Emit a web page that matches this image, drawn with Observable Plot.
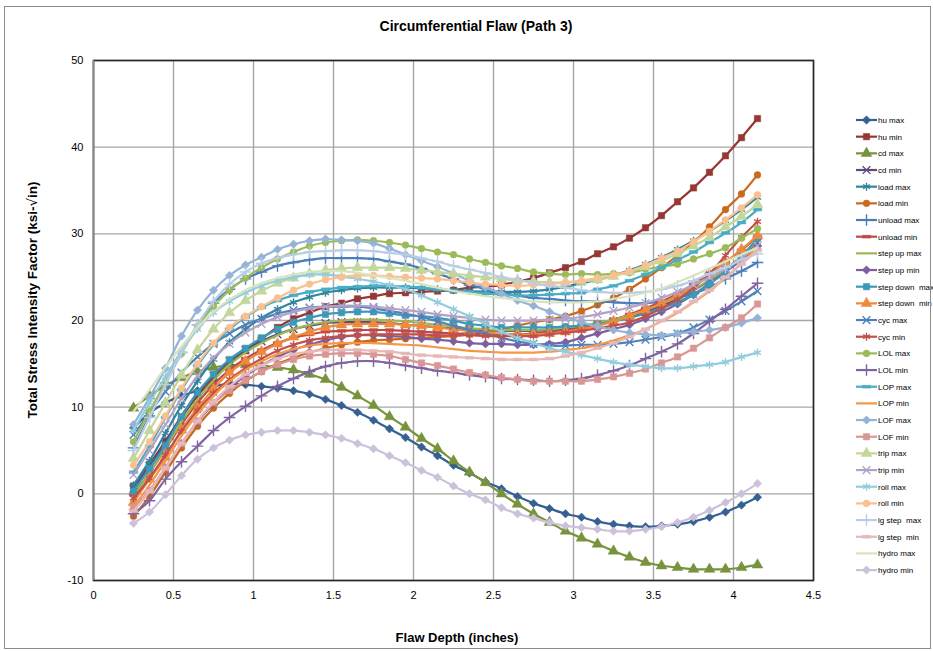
<!DOCTYPE html>
<html><head><meta charset="utf-8">
<script src="https://cdn.jsdelivr.net/npm/d3@7"></script>
<script src="https://cdn.jsdelivr.net/npm/@observablehq/plot@0.6"></script>
<style>
body{margin:0;background:#fff}
#wrap{position:relative;width:933px;height:651px}
#border{position:absolute;left:4px;top:6px;width:925px;height:641px;border:1px solid #8c8c8c;pointer-events:none}
</style></head>
<body><div id="wrap"><div id="border"></div></div>
<script>
const depth = [0.25,0.35,0.45,0.55,0.65,0.75,0.85,0.95,1.05,1.15,1.25,1.35,1.45,1.55,1.65,1.75,1.85,1.95,2.05,2.15,2.25,2.35,2.45,2.55,2.65,2.75,2.85,2.95,3.05,3.15,3.25,3.35,3.45,3.55,3.65,3.75,3.85,3.95,4.05,4.15];
const xTicks = [0,0.5,1,1.5,2,2.5,3,3.5,4,4.5];
const yTicks = [-10,0,10,20,30,40,50];

const huMax = [7.6,9.3,10.5,11.3,11.9,12.4,12.7,12.6,12.4,12.2,11.9,11.5,10.9,10.2,9.4,8.5,7.5,6.5,5.4,4.4,3.3,2.4,1.4,0.6,-0.3,-1.1,-1.7,-2.3,-2.7,-3.2,-3.5,-3.7,-3.8,-3.7,-3.5,-3.2,-2.7,-2.1,-1.3,-0.4];
const huMin = [0.9,3.4,6.1,8.8,11.3,13.3,15.0,16.5,17.9,19.2,20.2,20.9,21.6,22.0,22.5,22.8,23.1,23.2,23.3,23.4,23.5,23.8,23.9,24.1,24.5,24.9,25.5,26.1,26.8,27.7,28.5,29.5,30.7,32.1,33.7,35.3,37.1,39.0,41.1,43.3];
const cdMax = [9.9,11.3,12.5,13.4,14.1,14.6,14.8,14.9,14.8,14.6,14.3,13.8,13.2,12.3,11.3,10.2,8.9,7.7,6.4,5.2,3.8,2.5,1.3,0.0,-1.2,-2.3,-3.3,-4.3,-5.1,-5.8,-6.6,-7.3,-7.9,-8.3,-8.5,-8.7,-8.7,-8.7,-8.5,-8.2];
const cdMin = [0.6,3.2,6.0,9.0,11.6,13.6,15.3,16.6,17.6,18.4,19.0,19.4,19.7,19.8,19.8,19.8,19.7,19.5,19.4,19.2,19.1,19.0,18.9,18.8,18.8,18.8,18.9,19.0,19.2,19.5,19.9,20.4,21.0,21.7,22.5,23.5,24.6,25.9,27.4,29.0];
const loadMax = [1.0,3.8,7.0,10.2,13.0,15.5,17.5,19.0,20.3,21.3,22.1,22.7,23.2,23.5,23.7,23.8,23.8,23.8,23.7,23.6,23.5,23.4,23.3,23.3,23.3,23.4,23.6,23.9,24.3,24.7,25.2,25.8,26.5,27.3,28.2,29.2,30.3,31.5,32.8,34.2];
const loadMin = [-2.6,-0.3,2.5,5.3,7.8,9.9,11.6,13.0,14.1,15.0,15.7,16.3,16.8,17.2,17.5,17.7,17.8,17.9,18.0,18.1,18.2,18.4,18.7,19.0,19.4,19.8,20.1,20.5,21.1,21.8,22.6,23.6,24.8,26.1,27.5,29.0,30.8,32.8,34.6,36.8];
const unloadMax = [5.3,9.0,12.8,16.3,19.5,22.0,23.6,24.8,25.6,26.3,26.7,27.0,27.2,27.2,27.2,27.1,26.8,26.5,26.0,25.4,24.8,24.1,23.7,23.2,22.9,22.6,22.5,22.3,22.2,22.2,22.1,22.0,22.0,22.2,22.6,23.1,23.8,24.8,25.7,26.7];
const unloadMin = [-0.1,2.4,5.2,8.0,10.5,12.6,14.3,15.6,16.6,17.4,18.0,18.4,18.7,18.8,18.9,18.9,18.9,18.8,18.7,18.6,18.5,18.5,18.4,18.4,18.4,18.5,18.7,18.9,19.2,19.6,20.1,20.7,21.4,22.2,23.1,24.2,25.4,26.7,28.1,29.7];
const stepUpMax = [-0.3,2.4,5.3,8.3,10.9,13.1,14.9,16.3,17.4,18.3,19.0,19.5,19.8,20.0,20.1,20.1,20.0,19.9,19.7,19.5,19.3,19.1,19.0,18.9,18.9,18.9,19.0,19.2,19.4,19.7,20.1,20.6,21.2,21.9,22.7,23.6,24.7,25.9,27.4,29.2];
const stepUpMin = [-1.8,0.3,3.0,5.8,8.3,10.4,12.2,13.6,14.8,15.8,16.6,17.2,17.7,18.1,18.3,18.3,18.2,18.1,17.9,17.8,17.6,17.4,17.3,17.3,17.2,17.2,17.3,17.5,18.0,18.5,19.0,19.5,20.2,21.0,21.9,23.0,24.3,25.6,27.0,28.6];
const stepDownMax = [0.3,2.9,5.6,8.9,11.7,13.8,15.5,16.8,18.0,19.0,19.8,20.3,20.7,20.9,21.0,21.0,20.8,20.6,20.5,20.3,20.0,19.6,19.4,19.2,19.2,19.2,19.2,19.3,19.4,19.6,19.9,20.3,20.8,21.4,22.1,23.0,24.2,25.6,27.4,29.5];
const stepDownMin = [-1.0,1.7,4.2,7.4,9.9,12.1,14.0,15.3,16.4,17.3,18.1,18.7,19.2,19.5,19.6,19.6,19.6,19.5,19.4,19.2,19.0,18.8,18.6,18.5,18.4,18.4,18.5,18.7,19.0,19.4,19.9,20.5,21.2,22.0,22.9,24.0,25.3,26.7,28.2,29.8];
const cycMax = [6.8,9.3,11.8,14.0,15.8,17.3,18.5,19.5,20.2,20.8,21.2,21.5,21.6,21.6,21.6,21.4,21.1,20.8,20.4,19.9,19.4,18.9,18.5,18.0,17.6,17.3,17.1,17.1,17.2,17.2,17.3,17.5,17.8,18.1,18.5,19.2,20.1,21.1,22.2,23.4];
const cycMin = [-0.5,1.8,4.5,7.2,9.6,11.6,13.2,14.5,15.6,16.5,17.2,17.7,18.0,18.2,18.3,18.4,18.4,18.4,18.4,18.3,18.3,18.3,18.2,18.2,18.2,18.2,18.4,18.6,18.8,19.1,19.4,19.8,20.5,21.4,22.4,23.8,25.4,27.5,29.6,31.4];
const lolMax = [6.0,9.5,12.8,16.2,19.3,21.6,23.5,24.9,26.1,27.1,27.9,28.6,29.0,29.2,29.3,29.2,29.0,28.7,28.3,27.9,27.6,27.1,26.7,26.3,26.0,25.6,25.4,25.3,25.4,25.3,25.4,25.5,25.9,26.2,26.5,27.1,27.7,28.4,29.5,30.6];
const lolMin = [-2.3,-0.8,1.7,3.7,5.5,7.3,8.8,10.1,11.3,12.4,13.3,14.1,14.7,15.1,15.3,15.3,15.1,14.8,14.5,14.2,14.0,13.7,13.5,13.3,13.2,13.1,13.0,13.1,13.3,13.7,14.2,14.8,15.6,16.4,17.3,18.5,19.9,21.3,22.8,24.3];
const lopMax = [2.5,5.5,8.8,12.0,14.8,17.2,19.0,20.4,21.5,22.3,22.9,23.3,23.6,23.8,23.9,24.0,24.0,23.9,23.8,23.6,23.4,23.3,23.1,23.0,22.9,22.9,23.0,23.1,23.2,23.6,24.0,24.6,25.3,26.1,27.0,27.9,29.0,30.1,31.3,32.8];
const lopMin = [-1.5,1.0,3.8,6.7,9.2,11.3,13.0,14.3,15.3,16.1,16.7,17.1,17.3,17.4,17.4,17.4,17.3,17.2,17.1,16.9,16.7,16.5,16.4,16.3,16.3,16.3,16.4,16.6,16.8,17.2,17.7,18.3,19.0,19.9,20.9,22.1,23.4,24.9,26.6,28.5];
const lofMax = [8.0,11.1,14.5,18.2,21.2,23.5,25.2,26.4,27.3,28.2,28.8,29.2,29.4,29.3,29.2,28.9,28.3,27.6,26.9,26.2,25.4,24.6,23.8,23.1,22.3,21.7,21.0,20.4,19.8,19.3,18.9,18.6,18.4,18.3,18.5,18.7,18.9,19.2,19.7,20.3];
const lofMin = [-1.6,0.4,3.0,5.8,8.4,10.5,11.9,13.1,14.1,14.9,15.5,15.9,16.1,16.2,16.2,16.1,15.9,15.5,15.1,14.8,14.4,14.0,13.7,13.4,13.2,13.0,13.0,13.0,13.0,13.2,13.5,13.9,14.4,15.1,15.8,16.8,18.0,19.2,20.3,21.9];
const tripMax = [4.1,7.3,10.5,13.7,16.6,19.0,20.9,22.3,23.4,24.3,24.9,25.4,25.8,26.0,26.1,26.1,26.1,26.0,25.8,25.6,25.4,25.2,25.0,24.8,24.6,24.5,24.4,24.4,24.5,24.7,25.1,25.6,26.2,26.9,27.7,28.6,29.6,30.8,32.0,33.4];
const tripMin = [2.2,5.0,8.0,11.0,13.6,15.7,17.3,18.6,19.6,20.4,21.0,21.4,21.6,21.7,21.7,21.6,21.4,21.2,21.0,20.7,20.5,20.3,20.1,20.0,20.0,20.0,20.1,20.2,20.4,20.7,21.1,21.5,22.0,22.6,23.3,24.1,25.0,26.0,27.2,28.6];
const rollMax = [7.3,10.5,13.5,16.5,19.0,20.9,22.2,23.2,24.0,24.6,25.0,25.3,25.3,25.1,24.8,24.5,24.1,23.6,22.9,22.1,21.3,20.5,19.6,18.7,18.0,17.4,16.8,16.4,16.0,15.6,15.2,14.9,14.7,14.5,14.5,14.7,14.9,15.2,15.8,16.3];
const rollMin = [3.3,6.0,9.0,12.2,15.0,17.4,19.2,20.5,21.6,22.6,23.5,24.2,24.7,25.0,25.2,25.2,25.1,25.0,24.9,24.8,24.6,24.4,24.2,24.1,24.0,24.1,24.2,24.4,24.6,24.9,25.2,25.7,26.4,27.2,28.0,29.1,30.3,31.6,33.0,34.5];
const lgStepMax = [5.0,8.8,12.6,16.3,19.5,22.2,24.2,25.6,26.6,27.2,27.6,27.9,28.0,28.1,28.1,28.0,27.8,27.6,27.2,26.8,26.3,25.9,25.5,25.0,24.7,24.3,24.0,23.8,23.5,23.3,23.2,23.2,23.3,23.6,24.0,24.6,25.4,26.1,27.0,27.7];
const lgStepMin = [-2.0,0.3,3.0,5.8,8.4,10.6,12.4,13.8,14.8,15.6,16.1,16.4,16.6,16.6,16.6,16.5,16.4,16.2,16.0,15.9,15.8,15.7,15.6,15.5,15.5,15.5,15.6,15.9,16.3,16.8,17.4,18.1,19.0,20.0,21.0,22.2,23.5,25.0,26.5,28.1];
const hydroMax = [9.5,12.0,14.6,17.0,19.2,21.0,22.4,23.5,24.3,24.9,25.3,25.6,25.7,25.7,25.5,25.2,24.9,24.6,24.2,23.8,23.4,23.1,22.8,22.6,22.4,22.2,22.1,22.1,22.1,22.2,22.5,22.8,23.2,23.7,24.4,25.2,26.0,26.8,27.6,28.4];
const hydroMin = [-3.4,-2.1,-0.1,2.1,4.0,5.3,6.2,6.8,7.1,7.3,7.3,7.1,6.8,6.4,5.8,5.2,4.4,3.6,2.7,1.9,0.9,0.0,-0.7,-1.6,-2.3,-2.8,-3.3,-3.7,-3.9,-4.1,-4.3,-4.3,-4.1,-3.8,-3.3,-2.7,-1.9,-1.0,0.0,1.2];

const seriesNames = ["hu max","hu min","cd max","cd min","load max","load min","unload max","unload min","step up max","step up min","step down  max","step down  min","cyc max","cyc min","LOL max","LOL min","LOP max","LOP min","LOF max","LOF min","trip max","trip min","roll max","roll min","lg step  max","lg step  min","hydro max","hydro min"];
const seriesValues = [huMax,huMin,cdMax,cdMin,loadMax,loadMin,unloadMax,unloadMin,stepUpMax,stepUpMin,stepDownMax,stepDownMin,cycMax,cycMin,lolMax,lolMin,lopMax,lopMin,lofMax,lofMin,tripMax,tripMin,rollMax,rollMin,lgStepMax,lgStepMin,hydroMax,hydroMin];

// styles
const colors = ["#376092","#953735","#77933C","#604A7B","#31859C","#C8691C",
  "#4A7EBB","#BE4B48","#98B954","#7D5FA0","#3A9AB8","#EE8A3C",
  "#4F81BD","#C0504D","#9BBB59","#8064A2","#4BACC6","#F79646",
  "#95B3D7","#D99694","#C3D69B","#B3A2C7","#93CDDD","#FAC090",
  "#B9CDE5","#E6B9B8","#D7E4BD","#CCC1DA"];
const markerCycle = ["diamond","square","triangle","times","asterisk","circle","plus","dash","none"];

const dashSym = {draw(ctx, size){const s=Math.sqrt(size); const w=s*0.6, h=s*0.2; ctx.moveTo(-w,-h); ctx.lineTo(w,-h); ctx.lineTo(w,h); ctx.lineTo(-w,h); ctx.closePath();}};
const markerDefs = {
  diamond:{symbol:"diamond2", r:3.8, filled:true},
  square:{symbol:"square", r:3.6, filled:true},
  triangle:{symbol:"triangle", r:4.0, filled:true},
  times:{symbol:"times", r:3.6, filled:false},
  asterisk:{symbol:"asterisk", r:3.8, filled:false},
  circle:{symbol:"circle", r:3.4, filled:true},
  plus:{symbol:"plus", r:3.8, filled:false},
  dash:{symbol:dashSym, r:4.0, filled:true}
};

const rows = [];
seriesNames.forEach((name, i) => {
  seriesValues[i].forEach((v, j) => rows.push({series: name, idx: i, depth: depth[j], value: v}));
});

const marks = [];
seriesNames.forEach((name, i) => {
  const d = rows.filter(r => r.idx === i);
  const col = colors[i];
  const mk = markerCycle[i % 9];
  marks.push(Plot.line(d, {x:"depth", y:"value", stroke: col, strokeWidth: 2.2, curve: "catmull-rom"}));
  if (mk !== "none") {
    const md = markerDefs[mk];
    marks.push(Plot.dot(d, md.filled
      ? {x:"depth", y:"value", symbol: md.symbol, r: md.r, fill: col, stroke: col, strokeWidth: 0.5}
      : {x:"depth", y:"value", symbol: md.symbol, r: md.r, fill: "none", stroke: col, strokeWidth: 1.4}));
  }
});

const chart = Plot.plot({
  width: 933, height: 651,
  marginLeft: 93, marginRight: 120, marginTop: 60, marginBottom: 71,
  style: {fontFamily: "'Liberation Sans', Arial, sans-serif", fontSize: "11px", background: "transparent", color: "#000"},
  x: {domain: [0, 4.5]},
  y: {domain: [-10, 50]},
  marks: [
    Plot.gridX(xTicks, {stroke: "#a6a6a6", strokeOpacity: 1, strokeWidth: 1.4}),
    Plot.gridY(yTicks, {stroke: "#a6a6a6", strokeOpacity: 1, strokeWidth: 1.4}),
    Plot.frame({stroke: "#262626", strokeWidth: 1.6}),
    Plot.ruleX([0], {stroke: "#8c8c8c", strokeWidth: 1.6}),
    Plot.axisX(xTicks, {tickSize: 0, tickPadding: 11, label: null, fontSize: 11, tickFormat: d => String(d)}),
    Plot.axisY(yTicks, {tickSize: 0, tickPadding: 10, label: null, fontSize: 11, tickFormat: d => String(d)}),
    ...marks
  ]
});
document.getElementById("wrap").prepend(chart);

const svg = d3.select(chart);
svg.append("text").attr("x", 476).attr("y", 31).attr("text-anchor", "middle")
  .attr("font-size", 14).attr("font-weight", "bold").attr("fill", "#000")
  .text("Circumferential Flaw (Path 3)");
svg.append("text").attr("x", 457).attr("y", 642).attr("text-anchor", "middle")
  .attr("font-size", 13).attr("font-weight", "bold").attr("fill", "#000")
  .text("Flaw Depth (inches)");
const yl = svg.append("text").attr("transform", "translate(37,300) rotate(-90)").attr("text-anchor", "middle")
  .attr("font-size", 13.5).attr("font-weight", "bold").attr("fill", "#000");
yl.append("tspan").text("Total Stress Intensity Factor (ksi-");
yl.append("tspan").attr("font-family", "'DejaVu Sans', sans-serif").attr("font-weight", "normal").text("\u221A");
yl.append("tspan").text("in)");

// legend
const symMap = {diamond: d3.symbolDiamond2, square: d3.symbolSquare, triangle: d3.symbolTriangle, times: d3.symbolTimes, asterisk: d3.symbolAsterisk, circle: d3.symbolCircle, plus: d3.symbolPlus, dash: dashSym};
const lg = svg.append("g").attr("font-size", 8).attr("fill", "#000").attr("text-anchor", "start");
seriesNames.forEach((name, i) => {
  const y = 120 + i * 16.67;
  const col = colors[i];
  const mk = markerCycle[i % 9];
  lg.append("line").attr("x1", 856).attr("x2", 877).attr("y1", y).attr("y2", y).attr("stroke", col).attr("stroke-width", 2.2);
  if (mk !== "none") {
    const md = markerDefs[mk];
    const p = d3.symbol(symMap[mk], Math.PI * md.r * md.r)();
    const el = lg.append("path").attr("d", p).attr("transform", `translate(866.5,${y})`);
    if (md.filled) el.attr("fill", col).attr("stroke", col).attr("stroke-width", 0.5);
    else el.attr("fill", "none").attr("stroke", col).attr("stroke-width", 1.4);
  }
  lg.append("text").attr("x", 878).attr("y", y + 3).attr("text-anchor", "start").attr("fill", "#000").text(name);
});
</script></body></html>
